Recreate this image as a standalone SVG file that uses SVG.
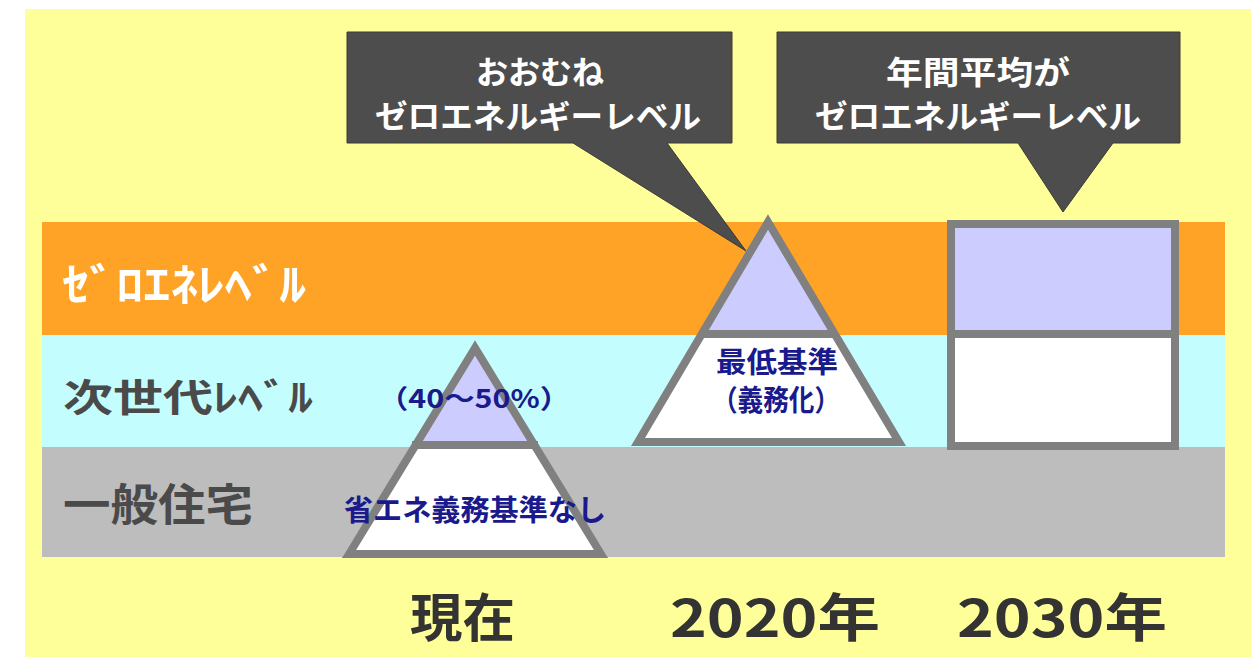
<svg xmlns="http://www.w3.org/2000/svg" width="1255" height="663" viewBox="0 0 1255 663">
<style>
.jp{font-family:"Noto Sans CJK JP","Noto Sans",sans-serif;font-weight:bold}
.band-label{fill:#4a4a4a}
.callout{fill:#4d4d4d;stroke:#3a3a3a;stroke-width:1}
.ct{fill:#ffffff;font-size:32px;text-anchor:middle}
.shape{stroke:#808080;stroke-width:8;stroke-linejoin:miter}
.navy{fill:#1a1a8c;text-anchor:middle}
.year{fill:#333333;font-size:52px}
</style>
<rect x="0" y="0" width="1255" height="663" fill="#ffffff"/>
<rect id="background" x="25" y="9" width="1226" height="648" fill="#ffff99"/>
<g id="bands">
<rect x="42" y="222" width="1183" height="113" fill="#ffa326"/>
<rect x="42" y="335" width="1183" height="112" fill="#c4fdfd"/>
<rect x="42" y="447" width="1183" height="110" fill="#bdbdbd"/>
</g>
<g id="band-labels">
<text class="jp" x="62" y="301" font-size="44" fill="#ffffff" textLength="244" lengthAdjust="spacingAndGlyphs">ｾﾞﾛｴﾈﾚﾍﾞﾙ</text>
<text class="jp band-label" x="63" y="411" font-size="38" textLength="250" lengthAdjust="spacingAndGlyphs">次世代ﾚﾍﾞﾙ</text>
<text class="jp band-label" x="63" y="521" font-size="44" textLength="190" lengthAdjust="spacingAndGlyphs">一般住宅</text>
</g>
<g id="callout-2020">
<path class="callout" d="M347,32 H732 V143 H667 L746,251 L573,143 H347 Z"/>
<text class="jp ct" x="540" y="84">おおむね</text>
<text class="jp ct" x="538" y="128" textLength="326" lengthAdjust="spacingAndGlyphs">ゼロエネルギーレベル</text>
</g>
<g id="callout-2030">
<path class="callout" d="M777,32 H1180 V143 H1113 L1063,212 L1018,143 H777 Z"/>
<text class="jp ct" x="978" y="84" textLength="184" lengthAdjust="spacingAndGlyphs">年間平均が</text>
<text class="jp ct" x="978" y="128" textLength="326" lengthAdjust="spacingAndGlyphs">ゼロエネルギーレベル</text>
</g>
<g id="pyramid-now">
<polygon points="475,348 343,556 607,556" fill="#ffffff"/>
<polygon points="475,348 412,445 538,445" fill="#ccccff"/>
<line x1="412" y1="445" x2="538" y2="445" stroke="#808080" stroke-width="8"/>
<polygon class="shape" points="475,348 349,554 601,554" fill="none"/>
<text class="jp navy" x="474" y="408" font-size="26" textLength="192" lengthAdjust="spacingAndGlyphs">（40～50%）</text>
<text class="jp navy" x="475" y="521" font-size="29" textLength="262" lengthAdjust="spacingAndGlyphs">省エネ義務基準なし</text>
</g>
<g id="pyramid-2020">
<polygon points="768,222 636,443 901,443" fill="#ffffff"/>
<polygon points="768,222 700,334 836,334" fill="#ccccff"/>
<line x1="700" y1="334" x2="836" y2="334" stroke="#808080" stroke-width="8"/>
<polygon class="shape" points="768,222 638,442 899,442" fill="none"/>
<text class="jp navy" x="777" y="373" font-size="29" textLength="122" lengthAdjust="spacingAndGlyphs">最低基準</text>
<text class="jp navy" x="776" y="411" font-size="29" textLength="128" lengthAdjust="spacingAndGlyphs">（義務化）</text>
</g>
<g id="box-2030">
<rect x="951" y="224" width="224" height="110" fill="#ccccff"/>
<rect x="951" y="334" width="224" height="112" fill="#ffffff"/>
<rect class="shape" x="951" y="224" width="224" height="222" fill="none"/>
<line x1="951" y1="334" x2="1175" y2="334" stroke="#808080" stroke-width="8"/>
</g>
<g id="year-labels">
<text class="jp year" x="410" y="637" textLength="105" lengthAdjust="spacingAndGlyphs">現在</text>
<text class="jp year" x="670" y="637" textLength="210" lengthAdjust="spacingAndGlyphs">2020年</text>
<text class="jp year" x="957" y="637" textLength="210" lengthAdjust="spacingAndGlyphs">2030年</text>
</g>
</svg>
